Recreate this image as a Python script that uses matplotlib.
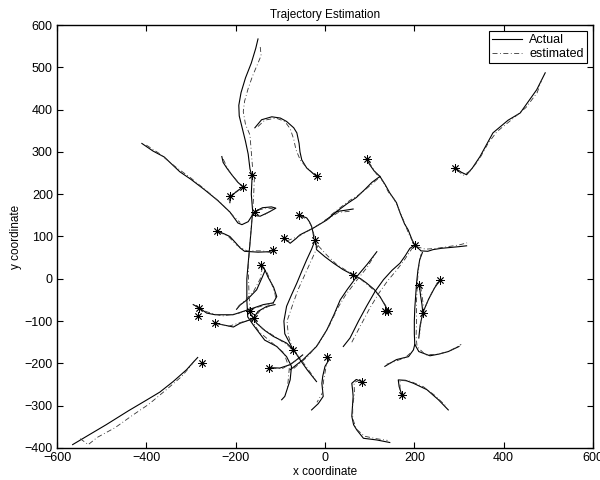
import matplotlib.pyplot as plt

plt.rcParams['font.family'] = ['Liberation Sans', 'DejaVu Sans']

# actual tracks (x, y pairs)
a01 = [(-565,-392),(-530,-370),(-490,-345),(-440,-312),(-400,-287),(-370,-268),(-340,-243),(-310,-215),(-293,-195),(-285,-186)]
a02 = [(-410,320),(-385,302),(-360,288),(-325,253),(-300,235),(-269,210),(-240,185),(-213,158),(-195,132),(-186,128),(-172,135),(-160,155)]
a03 = [(-150,567),(-155,545),(-165,510),(-178,475),(-188,440),(-193,410),(-192,385),(-185,355),(-178,325),(-172,295),(-168,260),(-165,248)]
a04 = [(-157,357),(-142,376),(-119,383),(-100,380),(-86,372),(-70,357),(-63,345),(-58,320),(-56,300),(-52,281),(-41,262),(-28,250),(-19,242)]
a05 = [(-231,289),(-228,275),(-220,262),(-208,245),(-195,228),(-184,218)]
a06 = [(-213,180),(-212,192),(-200,205),(-188,214)]
a07 = [(-163,246),(-165,200),(-162,160),(-165,120),(-170,60),(-175,0),(-175,-50),(-173,-90),(-160,-110),(-135,-145),(-108,-160),(-86,-184),(-75,-207),(-78,-239),(-90,-278),(-97,-286)]
a08 = [(-157,159),(-140,168),(-120,170),(-110,167),(-125,158),(-145,148),(-160,150)]
a09 = [(-241,113),(-225,106),(-213,100),(-200,85),(-190,73),(-180,65),(-150,63),(-125,64),(-116,69)]
a10 = [(-143,33),(-134,20),(-140,5),(-153,-26),(-175,-50),(-190,-62),(-198,-72)]
a10b = [(-134,20),(-128,5),(-115,-20),(-108,-42),(-116,-57)]
a11 = [(-58,151),(-41,144),(-35,135),(-30,124),(-27,110),(-25,97)]
a12 = [(-91,96),(-78,84),(-65,95),(-56,104),(-26,120),(4,139),(26,159),(45,162),(63,165)]
a13 = [(93,283),(100,270),(110,255),(123,242),(135,222),(145,203),(160,180),(168,156),(178,130),(186,116),(195,92),(201,80)]
a14 = [(123,242),(105,228),(90,212),(70,192),(50,178),(26,159),(10,145),(0,138)]
a15 = [(-22,92),(-30,70),(-41,45),(-52,18),(-63,-10),(-75,-38),(-86,-65),(-92,-100),(-90,-130),(-80,-150),(-71,-168)]
a16 = [(-20,84),(-19,69),(0,52),(19,37),(40,22),(63,9),(80,0),(93,-10),(110,-25),(123,-42),(133,-60),(142,-77)]
a17 = [(-78,-215),(-49,-191),(-19,-160),(4,-121),(20,-85),(34,-50),(50,-25),(71,5),(95,35),(116,64)]
a18 = [(41,-160),(56,-140),(75,-100),(93,-65),(112,-30),(131,-2),(150,20),(168,37),(180,55),(190,72),(201,80)]
a19 = [(201,80),(215,66),(230,65),(242,69),(260,72),(280,74),(300,76),(317,78)]
a20 = [(218,62),(212,45),(208,20),(205,-10),(203,-40),(201,-70),(200,-100),(200,-130),(201,-155),(210,-172),(235,-182),(255,-178),(276,-172),(300,-160)]
a21 = [(134,-207),(145,-200),(160,-191),(187,-184),(198,-168),(201,-155)]
a22 = [(257,-4),(245,-22),(232,-48),(219,-80),(213,-110),(210,-140)]
a22b = [(211,-14),(214,-40),(217,-60),(219,-80)]
a23 = [(82,-243),(70,-238),(60,-247),(62,-265),(63,-278),(60,-325),(64,-345),(71,-357),(86,-377),(116,-381),(145,-387)]
a24 = [(172,-274),(166,-255),(164,-239),(180,-240),(198,-247),(228,-262),(254,-286),(276,-310)]
a25 = [(4,-184),(10,-190),(0,-207),(-5,-230),(-7,-247),(-4,-278),(-15,-295),(-30,-310)]
a26 = [(-170,-78),(-153,-105),(-135,-122),(-116,-136),(-86,-152),(-70,-168),(-56,-191),(-40,-215),(-19,-243)]
a27 = [(-125,-210),(-101,-211),(-78,-203),(-63,-191),(-50,-180)]
a28 = [(-295,-61),(-281,-69),(-265,-81),(-246,-85),(-206,-85),(-183,-77),(-160,-69),(-138,-61),(-116,-57)]
a29 = [(-246,-105),(-228,-109),(-205,-114),(-190,-105),(-168,-97),(-160,-93),(-150,-77),(-130,-65),(-112,-61)]
a30 = [(291,262),(305,252),(317,246),(330,262),(347,289),(376,345),(410,375),(437,392),(474,447),(493,487)]

# estimated tracks
e01 = [(-548,-378),(-530,-392),(-510,-375),(-470,-352),(-430,-322),(-395,-297),(-355,-262),(-320,-230),(-300,-205),(-290,-190)]
e02 = [(-400,316),(-372,297),(-335,265),(-300,238),(-265,208),(-232,178),(-205,148),(-190,133)]
e03 = [(-145,548),(-143,528),(-150,510),(-162,480),(-172,450),(-180,420),(-183,395),(-178,365),(-168,340),(-165,300),(-162,260)]
e04 = [(-150,360),(-135,375),(-110,380),(-90,372),(-78,355),(-70,330),(-65,305),(-55,280),(-40,262),(-25,248)]
e05 = [(-228,283),(-215,255),(-200,235),(-188,220)]
e06 = [(-215,185),(-205,200),(-192,210)]
e07 = [(-158,240),(-160,190),(-166,110),(-172,30),(-170,-40),(-166,-95),(-148,-125),(-120,-150),(-92,-175),(-80,-212),(-84,-258)]
e08 = [(-150,162),(-130,168),(-115,165),(-135,152)]
e09 = [(-238,110),(-218,102),(-198,80),(-175,66),(-140,66),(-120,62)]
e10 = [(-140,28),(-145,0),(-160,-30),(-180,-52),(-195,-66)]
e10b = [(-130,15),(-120,-10),(-112,-35),(-110,-50)]
e11 = [(-55,148),(-38,140),(-28,120),(-24,100)]
e12 = [(-85,90),(-60,100),(-30,118),(0,137),(30,157),(60,160)]
e13 = [(98,276),(115,248),(130,230),(142,205),(155,188),(165,165),(175,140),(188,105),(198,85)]
e14 = [(118,236),(95,215),(75,198),(55,185),(30,165),(10,148)]
e15 = [(-15,80),(-30,45),(-45,10),(-60,-25),(-72,-60),(-85,-100),(-82,-135),(-74,-160)]
e16 = [(-15,78),(5,55),(25,35),(50,18),(75,3),(100,-18),(120,-38),(135,-62),(146,-80)]
e17 = [(-70,-212),(-40,-185),(-12,-150),(10,-110),(28,-70),(45,-40),(70,-5),(95,28),(112,58)]
e18 = [(60,-150),(80,-110),(100,-70),(120,-35),(140,-5),(160,20),(178,45),(195,72)]
e19 = [(205,76),(225,70),(250,72),(275,76),(300,80),(318,85)]
e20 = [(215,58),(210,30),(207,-5),(205,-50),(205,-95),(204,-135),(206,-160),(225,-180),(255,-178),(280,-170),(305,-155)]
e21 = [(138,-202),(155,-196),(180,-186),(195,-172)]
e22 = [(252,-8),(238,-35),(225,-65),(215,-100),(212,-130)]
e22b = [(214,-18),(218,-45),(221,-70)]
e23 = [(78,-240),(65,-245),(66,-270),(62,-300),(62,-330),(70,-355),(88,-372),(115,-378),(140,-382)]
e24 = [(168,-262),(168,-240),(190,-242),(220,-255),(245,-275),(270,-300)]
e25 = [(8,-188),(2,-210),(-3,-240),(-6,-270),(-18,-292)]
e26 = [(-160,-95),(-140,-118),(-110,-138),(-80,-160),(-58,-185),(-35,-218),(-22,-238)]
e27 = [(-120,-212),(-95,-212),(-72,-198),(-55,-186)]
e28 = [(-290,-65),(-265,-78),(-230,-88),(-195,-82),(-165,-72),(-135,-62),(-120,-58)]
e29 = [(-240,-106),(-215,-112),(-185,-102),(-160,-95),(-145,-75),(-120,-62)]
e30 = [(296,256),(310,245),(325,255),(345,282),(365,320),(385,348),(420,378),(450,405),(475,440),(485,470)]

actual = [a01,a02,a03,a04,a05,a06,a07,a08,a09,a10,a10b,a11,a12,a13,a14,a15,
          a16,a17,a18,a19,a20,a21,a22,a22b,a23,a24,a25,a26,a27,a28,a29,a30]
estimated = [e01,e02,e03,e04,e05,e06,e07,e08,e09,e10,e10b,e11,e12,e13,e14,e15,
             e16,e17,e18,e19,e20,e21,e22,e22b,e23,e24,e25,e26,e27,e28,e29,e30]

# start points (asterisks)
star_x = [-275,-157,-163,-19,-184,-213,-241,-116,-143,-58,-91,-22,93,291,201,63,140,134,211,219,257,82,172,4,-71,-125,-281,-285,-246,-168,-160]
star_y = [-200,159,246,242,218,195,113,69,33,151,96,92,283,262,80,9,-77,-77,-14,-80,-4,-243,-274,-184,-168,-210,-69,-89,-105,-77,-93]

fig = plt.figure(figsize=(6, 4.8), dpi=100)
ax = fig.add_axes([57/600, 32/480, 536/600, 423/480])

for i, tr in enumerate(actual):
    xs = [p[0] for p in tr]
    ys = [p[1] for p in tr]
    ax.plot(xs, ys, color='black', lw=0.8, label='Actual' if i == 0 else None)
for i, tr in enumerate(estimated):
    xs = [p[0] for p in tr]
    ys = [p[1] for p in tr]
    ax.plot(xs, ys, color='#333333', lw=0.6, linestyle=(0, (6, 3, 1, 3)),
            label='estimated' if i == 0 else None)

ax.plot(star_x, star_y, linestyle='none', marker=(8, 2, 0), markersize=6,
        color='black', markeredgewidth=0.6)

ax.set_xlim(-600, 600)
ax.set_ylim(-400, 600)
ax.set_xticks(range(-600, 601, 200))
ax.set_yticks(range(-400, 601, 100))
ax.set_xticklabels(['\u2212600', '\u2212400', '\u2212200', '0', '200', '400', '600'])
ax.set_yticklabels(['\u2212400', '\u2212300', '\u2212200', '\u2212100', '0', '100', '200', '300', '400', '500', '600'])
ax.tick_params(direction='in', top=True, right=True, length=4.5, width=0.8,
               labelsize=9, pad=3)
for s in ax.spines.values():
    s.set_linewidth(1.0)

ax.set_title('Trajectory Estimation', fontsize=8.5, pad=5)
ax.set_xlabel('x coordinate', fontsize=8.5, labelpad=1)
ax.set_ylabel('y coordinate', fontsize=8.5, labelpad=2)

leg = ax.legend(loc='upper right', fontsize=9, fancybox=False, framealpha=1,
                edgecolor='black', borderaxespad=0.5, handlelength=2.4,
                borderpad=0.25, labelspacing=0.15, handletextpad=0.6)
leg.get_frame().set_linewidth(0.8)

fig.savefig('out.png', dpi=100)
